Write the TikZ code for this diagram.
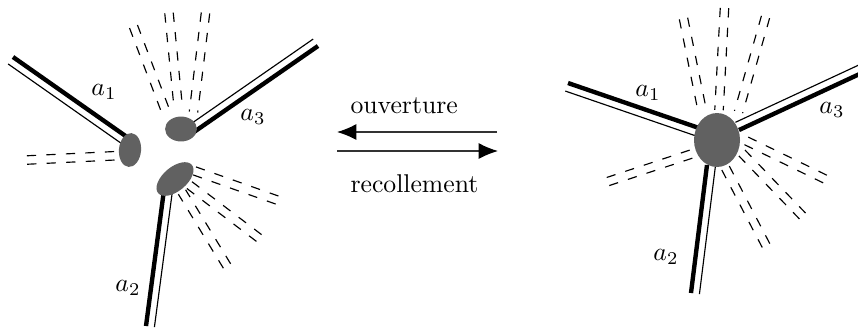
\documentclass[tikz,border=0pt]{standalone}
\usepackage{amsmath}
\usetikzlibrary{calc,shapes.geometric,arrows.meta}

\tikzset{
  sommet/.style={ellipse, fill=black!62, inner sep=0pt, outer sep=0pt},
  epais/.style={line width=1.7pt},
  fin/.style={line width=0.45pt},
  brin/.style={line width=0.45pt, dash pattern=on 3.6pt off 4pt},
  fleche/.style={line width=0.5pt, black!80, -{Latex[length=7.5pt,width=6.2pt,color=black]}},
}

% ruban : trait epais + trait fin a cote
\newcommand{\ruban}[2]{%
  \draw[epais] (#1) -- (#2);
  \draw[fin] ($(#1)!3.3pt!90:(#2)$) -- ($(#2)!3.3pt!-90:(#1)$);
}
% paire de brins en pointilles (trace depuis le bout libre)
\newcommand{\brins}[2]{%
  \draw[brin] ($(#2)!1.65pt!-90:(#1)$) -- ($(#1)!1.65pt!90:(#2)$);
  \draw[brin] ($(#2)!1.65pt!90:(#1)$) -- ($(#1)!1.65pt!-90:(#2)$);
}

\begin{document}
\begin{tikzpicture}[x=0.389pt, y=-0.389pt]
    \useasboundingbox (0,0) rectangle (858,329);

    % Gauche : aretes
    \coordinate (g1i) at (127,137);  \coordinate (g1o) at (13,57);
    \coordinate (g3i) at (194,132);  \coordinate (g3o) at (318,46);
    \coordinate (g2i) at (164,190);  \coordinate (g2o) at (146,326);
    \ruban{g1i}{g1o}
    \ruban{g3i}{g3o}
    \ruban{g2i}{g2o}

    % Gauche : brins
    \coordinate (p1) at (120,155.5);  \coordinate (q1) at (27,160);
    \coordinate (p2) at (166.5,113.5); \coordinate (q2) at (133.5,26.5);
    \coordinate (p3) at (178.5,110);  \coordinate (q3) at (169,13);
    \coordinate (p4) at (193.5,112);  \coordinate (q4) at (205.5,13);
    \coordinate (p5) at (192,170);    \coordinate (q5) at (277,200);
    \coordinate (p6) at (188,184);    \coordinate (q6) at (259,238);
    \coordinate (p7) at (182,192);    \coordinate (q7) at (227,266);
    \foreach \i in {1,...,7} {\brins{p\i}{q\i}}

    % Gauche : sommets
    \node[sommet, minimum width=8.6pt, minimum height=13.2pt, rotate=-5] (v1) at (130,150) {};
    \node[sommet, minimum width=12.4pt, minimum height=9.7pt] (v2) at (181,129) {};
    \node[sommet, minimum width=17.1pt, minimum height=9.3pt, rotate=40] (v3) at (175,179) {};

    \node (la1) at (104,92) {$a_1$};
    \node (la3) at (253,117) {$a_3$};
    \node (la2) at (128,288) {$a_2$};

    % Fleches
    \coordinate (f1) at (497,132);  \coordinate (f2) at (337,132);
    \coordinate (f3) at (337,151);  \coordinate (f4) at (498,151);
    \draw[fleche] (f1) -- (f2);
    \draw[fleche] (f3) -- (f4);
    \node[anchor=base west, inner sep=0pt] (ouv) at (350,113) {ouverture};
    \node[anchor=base west, inner sep=0pt] (rec) at (350,192) {recollement};

    % Droite : aretes
    \coordinate (d1i) at (699,128);  \coordinate (d1o) at (568,83);
    \coordinate (d3i) at (739,130);  \coordinate (d3o) at (866,71);
    \coordinate (d2i) at (707,165);  \coordinate (d2o) at (691,293);
    \ruban{d1i}{d1o}
    \ruban{d3i}{d3o}
    \ruban{d2i}{d2o}

    % Droite : brins
    \coordinate (r1) at (696,152.5);  \coordinate (s1) at (608,181.5);
    \coordinate (r2) at (702.5,112);  \coordinate (s2) at (683.5,18.5);
    \coordinate (r3) at (719,110);    \coordinate (s3) at (724.5,8);
    \coordinate (r4) at (738.5,112);  \coordinate (s4) at (765.5,17);
    \coordinate (r5) at (742.5,139);  \coordinate (s5) at (825,179);
    \coordinate (r6) at (741,152);    \coordinate (s6) at (802.5,216);
    \coordinate (r7) at (724.5,166);  \coordinate (s7) at (766,245.5);
    \foreach \i in {1,...,7} {\brins{r\i}{s\i}}

    % Droite : sommet
    \node[sommet, minimum width=17.9pt, minimum height=21pt] (v) at (717,140) {};

    \node (lb1) at (648,93) {$a_1$};
    \node (lb3) at (832,110) {$a_3$};
    \node (lb2) at (666,257) {$a_2$};
\end{tikzpicture}
\end{document}
